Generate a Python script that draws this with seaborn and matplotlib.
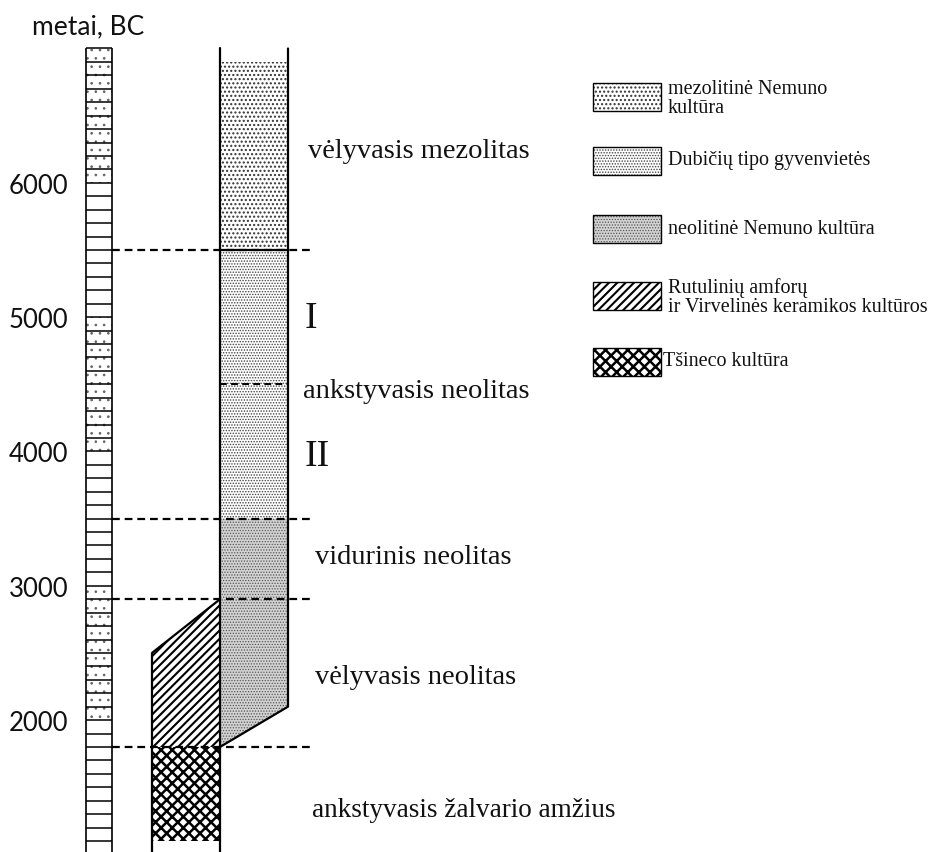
import numpy as np
import pandas as pd
import matplotlib
matplotlib.use("Agg")
import matplotlib.pyplot as plt
from matplotlib.patches import Polygon, Rectangle
import seaborn as sns

# ---------------- data ----------------
axis_title = "metai, BC"
scale_labels = [6000, 5000, 4000, 3000, 2000]
scale_top = 7000
scale_bottom = 1100
scale_step = 100
scale_shaded_blocks = [(7000, 6000), (5000, 4000), (3000, 2000)]

period_names = ["vėlyvasis mezolitas", "ankstyvasis neolitas", "vidurinis neolitas",
                "vėlyvasis neolitas", "ankstyvasis žalvario amžius"]
period_label_years = [6230, 4450, 3210, 2320, 1330]
period_bounds = [5500, 3500, 2900, 1800]
subphase_bound = 4500
subphase_names = ["I", "II"]
subphase_years = [4990, 3960]

mezo_years = [6900, 5500]            # mezolitinė Nemuno kultūra
dubiciu_years = [5500, 3500]         # Dubičių tipo gyvenvietės
neolit_years = [3500, 2100, 1800]    # top, lower right corner, lower left corner
rutul_years = [2500, 2900, 1800]     # upper left, upper right, bottom
tsineco_years = [1800, 1100]         # top, bottom

legend_labels = ["mezolitinė Nemuno\nkultūra", "Dubičių tipo gyvenvietės",
                 "neolitinė Nemuno kultūra",
                 "Rutulinių amforų\nir Virvelinės keramikos kultūros", "Tšineco kultūra"]

# ---------------- style ----------------
sns.set_theme(style="white")
SERIF = ["Liberation Serif", "DejaVu Serif"]
SANS = ["Lato", "DejaVu Sans"]
plt.rcParams["font.family"] = SERIF

W, H = 944, 852
Y_TOP, Y_BOT = 7361, 1018
fig = plt.figure(figsize=(W / 100, H / 100), dpi=100)
ax = fig.add_axes([0, 0, 1, 1])
ax.set_xlim(0, W)
ax.set_ylim(Y_BOT, Y_TOP)
ax.axis("off")
lax = fig.add_axes([0, 0, 1, 1])
lax.set_xlim(0, W)
lax.set_ylim(H, 0)
lax.axis("off")
lax.patch.set_alpha(0)

# x positions (pixels)
RL, RR = 86, 112          # ruler
CL, CR = 220, 288         # main column
HL = 152                  # left (hatched) column

styles = {
    "mezo": dict(hatch="....", fc="white", hc="#333333", hlw=1.0),
    "dub": dict(hatch="......", fc="white", hc="#444444", hlw=0.7),
    "neo": dict(hatch="......", fc="#d2d2d2", hc="#555555", hlw=0.6),
    "rut": dict(hatch="////", fc="white", hc="black", hlw=1.5),
    "tsi": dict(hatch="xxx", fc="white", hc="black", hlw=1.8),
}


def add_poly(a, pts, key):
    s = styles[key]
    plt.rcParams["hatch.linewidth"] = s["hlw"]
    p = Polygon(pts, closed=True, facecolor=s["fc"], edgecolor=s["hc"],
                linewidth=0, hatch=s["hatch"], zorder=2)
    if hasattr(p, "set_hatch_linewidth"):
        p.set_hatch_linewidth(s["hlw"])
    a.add_patch(p)
    return p


# ---- ruler ----
for top, bot in scale_shaded_blocks:
    plt.rcParams["hatch.linewidth"] = 0.7
    r = Rectangle((RL, bot), RR - RL, top - bot, facecolor="white", edgecolor="#666666",
                  linewidth=0, hatch="..", zorder=1)
    if hasattr(r, "set_hatch_linewidth"):
        r.set_hatch_linewidth(0.7)
    ax.add_patch(r)
ruler_years = list(range(scale_top, scale_bottom - 1, -scale_step))
ax.hlines(ruler_years, RL, RR, color="black", lw=1.1, zorder=3)
ax.vlines([RL, RR], Y_BOT, scale_top, color="black", lw=1.2, zorder=3)
for v in scale_labels:
    ax.text(68, v - 25, str(v), ha="right", va="center", fontsize=18.5,
            family=SANS, color="#111111")
ax.text(32, 7160, axis_title, ha="left", va="center", fontsize=19, family=SANS,
        color="#111111")

# ---- culture fills ----
add_poly(ax, [(CL, mezo_years[0]), (CR, mezo_years[0]), (CR, mezo_years[1]), (CL, mezo_years[1])], "mezo")
add_poly(ax, [(CL, dubiciu_years[0]), (CR, dubiciu_years[0]), (CR, dubiciu_years[1]), (CL, dubiciu_years[1])], "dub")
add_poly(ax, [(CL, neolit_years[0]), (CR, neolit_years[0]), (CR, neolit_years[1]), (CL, neolit_years[2])], "neo")
add_poly(ax, [(HL, rutul_years[0]), (CL, rutul_years[1]), (CL, rutul_years[2]), (HL, rutul_years[2])], "rut")
add_poly(ax, [(HL, tsineco_years[0]), (CL, tsineco_years[0]), (CL, tsineco_years[1]), (HL, tsineco_years[1])], "tsi")

# ---- column outlines (seaborn) ----
outline = pd.DataFrame({
    "seg": [0, 0, 1, 1, 1, 2, 2, 2],
    "x": [CL, CL, CR, CR, CL, CL, HL, HL],
    "year": [scale_top, Y_BOT, scale_top, neolit_years[1], neolit_years[2],
             rutul_years[1], rutul_years[0], Y_BOT],
})
sns.lineplot(data=outline, x="x", y="year", units="seg", estimator=None, sort=False,
             color="black", lw=1.6, ax=ax, zorder=4)
ax.set_xlim(0, W)
ax.set_ylim(Y_BOT, Y_TOP)
ax.axis("off")

# ---- period boundaries ----
dash = (0, (3.5, 2.2))
ax.hlines(period_bounds, RR, 313, color="black", lw=1.6, linestyles=dash, zorder=5)
ax.hlines([period_bounds[0]], CL, CR, color="black", lw=1.6, zorder=5)
ax.hlines([subphase_bound], CL, CR, color="black", lw=1.4, linestyles=dash, zorder=5)

# ---- labels ----
label_x = [308, 303, 315, 315, 312]
label_size = [20.5, 20.5, 20.5, 20.5, 19.5]
for name, yv, xv, fs in zip(period_names, period_label_years, label_x, label_size):
    ax.text(xv, yv, name, ha="left", va="center", fontsize=fs, color="#111111")
for name, yv in zip(subphase_names, subphase_years):
    ax.text(305, yv, name, ha="left", va="center", fontsize=27, color="#111111")

# ---- legend ----
box_centers = [97, 161, 229, 296, 362]
keys = ["mezo", "dub", "neo", "rut", "tsi"]
for k, cy, lab in zip(keys, box_centers, legend_labels):
    bw, bh = 68, 28
    add_poly(lax, [(593, cy - bh / 2), (593 + bw, cy - bh / 2), (593 + bw, cy + bh / 2), (593, cy + bh / 2)], k)
    lax.add_patch(Rectangle((593, cy - bh / 2), bw, bh, fill=False, edgecolor="black", lw=1.0, zorder=3))
    tx = 663 if k == "tsi" else 668
    ty = cy + (2 if "\n" in lab else 0)
    lax.text(tx, ty, lab, ha="left", va="center", fontsize=14.5, linespacing=1.0,
             color="#111111")

fig.savefig("out.png", dpi=100)
